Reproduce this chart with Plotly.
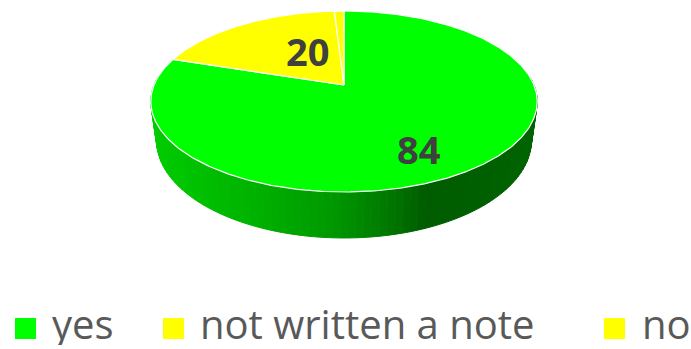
import math
import plotly.graph_objects as go

# Survey answers
categories = ["yes", "not written a note", "no"]
values = [84, 20, 1]
slice_colors = ["#00FF00", "#FFFF00", "#FFFF00"]
shown_labels = ["84", "20", ""]

W, H = 691, 349

# 3D pie geometry (pixel space of the canvas)
CX, RX = 344.0, 190.0          # centre x and horizontal radius
PA, PB, PC = 72.0, 85.0, -0.1823  # perspective mapping for the vertical axis
THICK = 37.6                   # depth of the disc
BOTTOM_SCALE = 0.97            # bottom rim seen slightly smaller


def project(theta, r=1.0, bottom=False):
    """theta in degrees, clockwise from 12 o'clock."""
    t = math.radians(theta)
    u = r * math.sin(t)
    v = -r * math.cos(t)
    d = 1.0 + PC * v
    x = CX + RX * u / d
    y = (PA * v + PB) / d
    if bottom:
        x = CX + BOTTOM_SCALE * (x - CX)
        y += THICK / d
    return x, y


def side_shade(x, base):
    # lighting across the visible wall: bright on the left, dark on the right
    stops = [(150, 0.80), (250, 0.70), (330, 0.60), (390, 0.47), (425, 0.36), (540, 0.39)]
    if x <= stops[0][0]:
        f = stops[0][1]
    elif x >= stops[-1][0]:
        f = stops[-1][1]
    else:
        for (x0, f0), (x1, f1) in zip(stops, stops[1:]):
            if x0 <= x <= x1:
                f = f0 + (f1 - f0) * (x - x0) / (x1 - x0)
                break
    r = int(base[1:3], 16)
    g = int(base[3:5], 16)
    b = int(base[5:7], 16)
    return "rgb(%d,%d,%d)" % (round(r * f), round(g * f), round(b * f))


total = sum(values)
bounds = []
acc = 0.0
for v in values:
    start = acc / total * 360.0
    acc += v
    bounds.append((start, acc / total * 360.0))

fig = go.Figure()

# Visible front wall, split into thin strips for the gradient
FRONT_FROM, FRONT_TO, STEP = 85.0, 275.0, 2.0
for (a0, a1), col in zip(bounds, slice_colors):
    lo, hi = max(a0, FRONT_FROM), min(a1, FRONT_TO)
    t = lo
    while t < hi - 1e-9:
        t2 = min(t + STEP, hi)
        p1 = project(t)
        p2 = project(t2)
        q2 = project(t2, bottom=True)
        q1 = project(t, bottom=True)
        xs = [p1[0], p2[0], q2[0], q1[0], p1[0]]
        ys = [p1[1], p2[1], q2[1], q1[1], p1[1]]
        shade = side_shade((p1[0] + p2[0]) / 2, col)
        fig.add_trace(go.Scatter(
            x=xs, y=ys, mode="lines", fill="toself",
            fillcolor=shade, line=dict(color=shade, width=1),
            hoverinfo="skip", showlegend=False))
        t = t2

# Top face slices
for (a0, a1), col, name in zip(bounds, slice_colors, categories):
    n = max(2, int((a1 - a0) / 0.5))
    xs, ys = [CX], [project(0, r=0)[1]]
    for i in range(n + 1):
        px, py = project(a0 + (a1 - a0) * i / n)
        xs.append(px)
        ys.append(py)
    xs.append(CX)
    ys.append(project(0, r=0)[1])
    fig.add_trace(go.Scatter(
        x=xs, y=ys, mode="lines", fill="toself", name=name,
        fillcolor=col, line=dict(color="white", width=1.2),
        hoverinfo="skip", showlegend=False))

# Data labels
label_pos = [(419, 149), (307, 51), None]
for txt, pos in zip(shown_labels, label_pos):
    if txt and pos:
        fig.add_annotation(x=pos[0], y=pos[1], text="<b>%s</b>" % txt, showarrow=False,
                           font=dict(family="Open Sans", size=38, color="#404040"),
                           xanchor="center", yanchor="middle")

# Legend
legend_sq = [15, 163, 604]
legend_tx = [50, 198, 640]
for name, col, sx, tx in zip(categories, slice_colors, legend_sq, legend_tx):
    fig.add_shape(type="rect", x0=sx, x1=sx + 21, y0=318, y1=339,
                  fillcolor=col, line=dict(width=0), layer="above")
    fig.add_annotation(x=tx, y=323, text=name, showarrow=False,
                       font=dict(family="Open Sans", size=40, color="#595959"),
                       height=44, valign="middle",
                       xanchor="left", yanchor="middle")

fig.update_layout(
    width=W, height=H,
    margin=dict(l=0, r=0, t=0, b=0),
    paper_bgcolor="white", plot_bgcolor="white",
    hovermode=False,
    xaxis=dict(range=[0, W], visible=False, fixedrange=True),
    yaxis=dict(range=[H, 0], visible=False, fixedrange=True),
)

fig.write_html("out.html")
